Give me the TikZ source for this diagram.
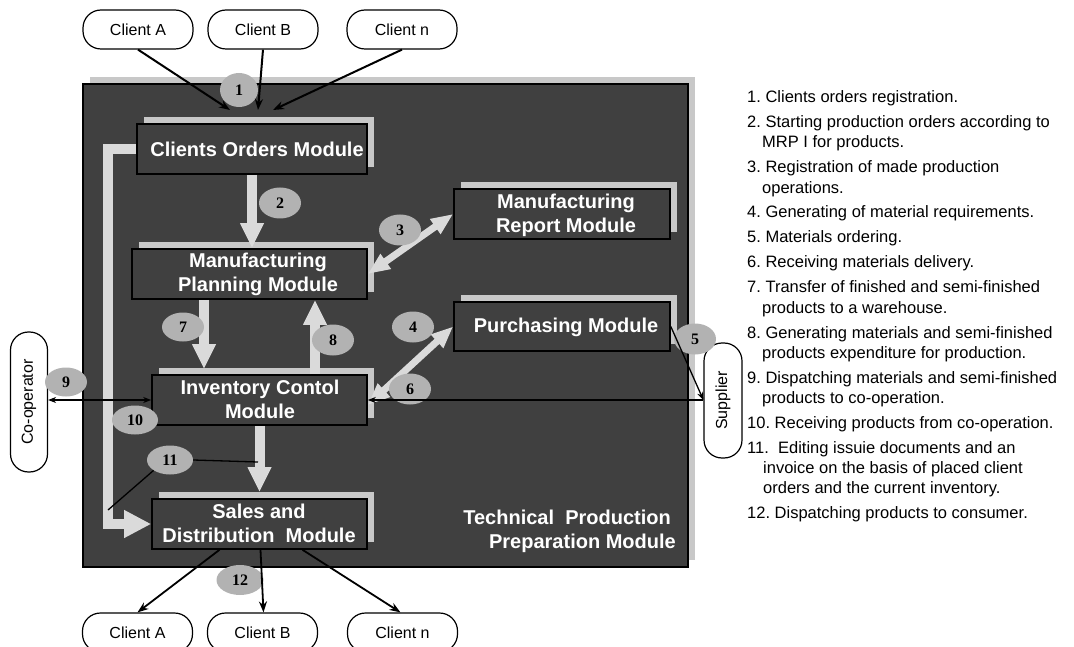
\documentclass[tikz,border=0pt]{standalone}
\usepackage{fontspec}
\setmainfont{Liberation Sans}
\newfontfamily\badgefont{Liberation Serif}
\usetikzlibrary{arrows.meta,shapes.geometric,shadows,calc}
\frenchspacing

\definecolor{panel}{RGB}{64,64,64}
\definecolor{rim}{RGB}{200,200,200}
\definecolor{flowgrey}{RGB}{218,218,218}
\definecolor{badgegrey}{RGB}{178,178,178}

\begin{document}
\begin{tikzpicture}[x=1pt,y=-1pt,
  pill/.style={draw=black, line width=1.2pt, rounded corners=18pt, fill=white,
    minimum width=110pt, minimum height=39pt, inner sep=0pt,
    font=\fontsize{16}{18}\selectfont},
  vpill/.style={pill, minimum width=37pt},
  modbox/.style={draw=black, line width=1.6pt, fill=panel, inner sep=0pt,
    general shadow={fill=rim, shadow xshift=7pt, shadow yshift=7pt}},
  modtext/.style={text=white, font=\bfseries\fontsize{20}{24}\selectfont,
    align=center, inner sep=0pt},
  badge/.style={ellipse, fill=badgegrey, minimum width=42pt, minimum height=31pt,
    inner sep=0pt, font=\badgefont\bfseries\fontsize{16}{16}\selectfont},
  flow/.style={draw=flowgrey, line width=10pt, line join=miter,
    -{Triangle[width=22pt,length=25pt]}},
  flowboth/.style={draw=flowgrey, line width=7pt,
    {Triangle[width=17pt,length=22pt]}-{Triangle[width=17pt,length=22pt]}},
  feed/.style={draw=black, line width=2pt, -{Stealth[length=11pt,width=8pt]}},
  link/.style={draw=black, line width=1.3pt, -{Stealth[length=8pt,width=6pt]}},
  tie/.style={draw=black, line width=1.3pt},
  legend/.style={inner sep=0pt, font=\fontsize{16.5}{20}\selectfont}
]
\useasboundingbox (0,0) rectangle (1074,647);

% outer panel
\node[modbox, line width=2pt, minimum width=605pt, minimum height=483pt] (tpp) at (385.5,325.5) {};

% modules
\node[modbox, minimum width=230pt, minimum height=50pt] (com) at (252,149) {};
\node[modbox, minimum width=235pt, minimum height=50pt] (plan) at (249.5,274) {};
\node[modbox, minimum width=216pt, minimum height=50pt] (report) at (562,214) {};
\node[modbox, minimum width=216pt, minimum height=49pt] (purch) at (562,326.5) {};
\node[modbox, minimum width=215pt, minimum height=50pt] (inv) at (259.5,400) {};
\node[modbox, minimum width=215pt, minimum height=50pt] (sales) at (259.5,524) {};

\node[modtext] (comt) at (257,149) {Clients Orders Module};
\node[modtext] (plant) at (258,274.5) {Manufacturing\\Planning Module};
\node[modtext] (reportt) at (566,215.5) {Manufacturing\\Report Module};
\node[modtext] (purcht) at (566,327) {Purchasing Module};
\node[modtext] (invt) at (260,399) {Inventory Contol\\Module};
\node[modtext] (salest) at (259,523) {Sales and\\Distribution~ Module};
\node[modtext, align=right, anchor=east] (tppt) at (676,531)
  {Technical~ Production\hspace*{5pt}\\Preparation Module};

% wide grey flows between modules
\coordinate (a7) at (204,0);
\coordinate (a8) at (315,0);
\coordinate (lb1) at (108,149);
\coordinate (lb2) at (108,524);
\draw[flow, -{Triangle[width=26pt,length=27pt]}] (com.west) -- (lb1) -- (lb2) -- (sales.west);
\draw[flow] (com.south) -- (com.south |- plan.north);
\draw[flow, shorten >=5pt] (plan.south -| a7) -- (inv.north -| a7);
\draw[flow] (inv.north -| a8) -- (plan.south -| a8);
\draw[flow, shorten >=6pt] (inv.south) -- (sales.north);
\draw[flowboth] (plan.east) -- (report.west);
\draw[flowboth] ([yshift=-5pt]inv.east) -- (purch.west);

% clients, co-operator and supplier
\node[pill] (ca1) at (138,29.5) {Client A};
\node[pill] (cb1) at (263,29.5) {Client B};
\node[pill] (cn1) at (402,29.5) {Client n};
\node[pill] (ca2) at (137.5,632.5) {Client A};
\node[pill] (cb2) at (262.5,632.5) {Client B};
\node[pill] (cn2) at (402.5,632.5) {Client n};
\node[vpill, minimum height=140pt] (coop) at (29,402) {\rotatebox{90}{Co-operator}};
\node[vpill, minimum height=115pt, minimum width=38pt] (sup) at (723,400.5) {\rotatebox{90}{Supplier}};

% numbered badges
\node[badge, minimum width=38pt, minimum height=34pt] (b1) at (239,90) {1};
\node[badge] (b2) at (280,203) {2};
\node[badge] (b3) at (400,230) {3};
\node[badge] (b4) at (413,327) {4};
\node[badge] (b5) at (695,339) {5};
\node[badge] (b6) at (410,389) {6};
\node[badge, minimum height=29pt] (b7) at (183,327) {7};
\node[badge] (b8) at (333,340) {8};
\node[badge, minimum height=29pt] (b9) at (66,382) {9};
\node[badge, minimum width=46pt, minimum height=29pt] (b10) at (135,420) {10};
\node[badge, minimum width=46pt, minimum height=29pt] (b11) at (170,460) {11};
\node[badge, minimum width=47pt, minimum height=30pt] (b12) at (240,580) {12};

% order intake
\coordinate (in1a) at (230,110);
\coordinate (in1b) at (258,110);
\coordinate (in1n) at (273,110);
\draw[feed] (ca1.south) -- (in1a);
\draw[feed] (cb1.south) -- (in1b);
\draw[feed] (cn1.south) -- (in1n);

% dispatch to clients
\draw[feed, line width=1.8pt] ([xshift=-40pt]sales.south) -- (ca2.north);
\draw[feed, line width=1.8pt] ([xshift=1pt]sales.south) -- ([xshift=1pt]cb2.north);
\draw[feed, line width=1.8pt] ([xshift=43pt]sales.south) -- ([xshift=-2pt]cn2.north);

% supplier and co-operation links
\draw[link] (purch.east) -- (sup.west |- inv.east);
\draw[link] (sup.west |- inv.east) -- (inv.east);
\draw[link, {Stealth[length=8pt,width=6pt]}-{Stealth[length=8pt,width=6pt]}]
  (coop.east |- inv.west) -- (inv.west);

% badge 11 pointers
\coordinate (e11a) at (258,462);
\coordinate (e11b) at (108,510);
\draw[tie] (b11.east) -- (e11a);
\draw[tie] (b11.south west) -- (e11b);

% legend
\foreach \yy/\xx/\txt [count=\i] in {
  97/747/{1. Clients orders registration.},
  122/747/{2. Starting production orders according to},
  142/762/{MRP I for products.},
  167/747/{3. Registration of made production},
  188/762/{operations.},
  212/747/{4. Generating of material requirements.},
  237/747/{5. Materials ordering.},
  262/747/{6. Receiving materials delivery.},
  287/747/{7. Transfer of finished and semi-finished},
  307/762/{products to a warehouse.},
  332/747/{8. Generating materials and semi-finished},
  352/762/{products expenditure for production.},
  377/747/{9. Dispatching materials and semi-finished},
  397/762/{products to co-operation.},
  422/747/{10. Receiving products from co-operation.},
  447/747/{11.~ Editing issuie documents and an},
  467/763/{invoice on the basis of placed client},
  487/763/{orders and the current inventory.},
  512/747/{12. Dispatching products to consumer.}}
  \node[legend, anchor=base west] (leg\i) at (\xx,\yy+6) {\txt};
\end{tikzpicture}
\end{document}
